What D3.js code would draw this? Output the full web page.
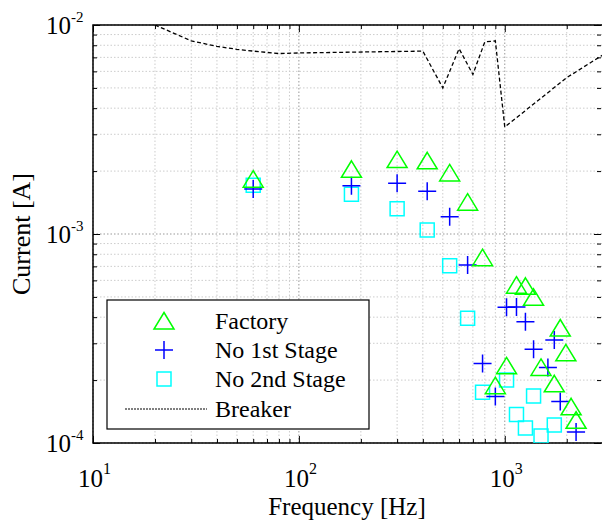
<!DOCTYPE html>
<html>
<head>
<meta charset="utf-8">
<script src="https://cdn.jsdelivr.net/npm/d3@7"></script>
<style>
  body { margin: 0; background: #fff; }
  text { font-family: "Liberation Serif", "DejaVu Serif", serif; fill: #000; }
</style>
</head>
<body>
<svg id="chart" width="602" height="521"></svg>
<script>
// harmonic frequencies (Hz) and measured currents (A)
const factoryFreq = [60, 180, 300, 420, 540, 660, 780, 900, 1020, 1140, 1260, 1380, 1500, 1740, 1860, 1980, 2100, 2220];
const factoryCur = [1.83e-3, 2.04e-3, 2.27e-3, 2.24e-3, 1.96e-3, 1.42e-3, 7.7e-4, 1.88e-4, 2.34e-4, 5.69e-4, 5.62e-4, 4.98e-4, 2.30e-4, 1.92e-4, 3.55e-4, 2.70e-4, 1.49e-4, 1.285e-4];

const no1Freq = [60, 180, 300, 420, 540, 660, 780, 900, 1020, 1140, 1260, 1380, 1620, 1740, 1860, 2220];
const no1Cur = [1.64e-3, 1.70e-3, 1.75e-3, 1.60e-3, 1.21e-3, 7.1e-4, 2.40e-4, 1.67e-4, 4.46e-4, 4.48e-4, 3.80e-4, 2.81e-4, 2.30e-4, 3.11e-4, 1.58e-4, 1.13e-4];

const no2Freq = [60, 180, 300, 420, 540, 660, 780, 1020, 1140, 1260, 1380, 1500, 1740];
const no2Cur = [1.71e-3, 1.55e-3, 1.32e-3, 1.045e-3, 7.05e-4, 3.95e-4, 1.75e-4, 2.0e-4, 1.37e-4, 1.18e-4, 1.68e-4, 1.08e-4, 1.22e-4];

const breakerFreq = [20, 30, 40, 50, 60, 80, 100, 400, 500, 600, 700, 800, 900, 1000, 2000, 3000];
const breakerCur = [1.0e-2, 8.4e-3, 7.9e-3, 7.65e-3, 7.5e-3, 7.3e-3, 7.35e-3, 7.5e-3, 5.0e-3, 7.7e-3, 5.8e-3, 8.3e-3, 8.4e-3, 3.25e-3, 5.6e-3, 7.2e-3];

const xTicks = [10, 100, 1000];
const xExp = ["1", "2", "3"];
const yTicks = [1e-4, 1e-3, 1e-2];
const yExp = ["-4", "-3", "-2"];
const legendNames = ["Factory", "No 1st Stage", "No 2nd Stage", "Breaker"];

const svg = d3.select("#chart");
const L = 93, R = 603, T = 25, B = 443;

const x = d3.scaleLog().domain([10, 3000]).range([L, R]);
const y = d3.scaleLog().domain([1e-4, 1e-2]).range([B, T]);

function minorTicks(lo, hi) {
  let out = [];
  for (let d = lo; d < hi; d *= 10)
    for (let k = 2; k <= 9; k++) if (d * k <= hi) out.push(d * k);
  return out;
}
const xMinor = minorTicks(10, 3000);
const yMinor = minorTicks(1e-4, 1e-2);

// grid
const grid = svg.append("g");
grid.selectAll(".gx").data(xMinor).join("line")
  .attr("x1", d => x(d)).attr("x2", d => x(d)).attr("y1", T).attr("y2", B)
  .attr("stroke", "#cccccc").attr("stroke-dasharray", "1.5,2");
grid.selectAll(".gy").data(yMinor).join("line")
  .attr("y1", d => y(d)).attr("y2", d => y(d)).attr("x1", L).attr("x2", R)
  .attr("stroke", "#cccccc").attr("stroke-dasharray", "1.5,2");
grid.selectAll(".gxm").data(xTicks).join("line")
  .attr("x1", d => x(d)).attr("x2", d => x(d)).attr("y1", T).attr("y2", B)
  .attr("stroke", "#999").attr("stroke-dasharray", "1.5,2");
grid.selectAll(".gym").data(yTicks).join("line")
  .attr("y1", d => y(d)).attr("y2", d => y(d)).attr("x1", L).attr("x2", R)
  .attr("stroke", "#999").attr("stroke-dasharray", "1.5,2");

// ticks (inward) on all four sides
function addAxis(axis, tr) {
  const g = svg.append("g").attr("transform", tr).call(axis);
  g.select(".domain").remove();
  g.selectAll("line").attr("stroke", "#000");
  g.selectAll("text").remove();
}
addAxis(d3.axisBottom(x).tickValues(xTicks).tickSize(-7), `translate(0,${B})`);
addAxis(d3.axisBottom(x).tickValues(xMinor).tickSize(-4), `translate(0,${B})`);
addAxis(d3.axisTop(x).tickValues(xTicks).tickSize(-7), `translate(0,${T})`);
addAxis(d3.axisTop(x).tickValues(xMinor).tickSize(-4), `translate(0,${T})`);
addAxis(d3.axisLeft(y).tickValues(yTicks).tickSize(-7), `translate(${L},0)`);
addAxis(d3.axisLeft(y).tickValues(yMinor).tickSize(-4), `translate(${L},0)`);
addAxis(d3.axisRight(y).tickValues(yTicks).tickSize(-7), `translate(${R - 2},0)`);
addAxis(d3.axisRight(y).tickValues(yMinor).tickSize(-4), `translate(${R - 2},0)`);

// frame
svg.append("path")
  .attr("d", `M${R},${T}H${L}V${B}H${R}`)
  .attr("fill", "none").attr("stroke", "#000").attr("stroke-width", 1.5);

// tick labels
xTicks.forEach((v, i) => {
  const t = svg.append("text").attr("x", x(v) - 15).attr("y", 487).attr("font-size", 25);
  t.append("tspan").text("10");
  t.append("tspan").attr("font-size", 16).attr("dy", -13).text(xExp[i]);
});
yTicks.forEach((v, i) => {
  const t = svg.append("text").attr("x", 46).attr("y", y(v) + 9).attr("font-size", 25);
  t.append("tspan").text("10");
  t.append("tspan").attr("font-size", 15).attr("dy", -12).text(yExp[i]);
});

// axis titles
svg.append("text").attr("x", 347).attr("y", 515).attr("text-anchor", "middle")
  .attr("font-size", 25).text("Frequency [Hz]");
svg.append("text").attr("transform", "translate(30,234) rotate(-90)")
  .attr("text-anchor", "middle").attr("font-size", 26).text("Current [A]");

// plot content
svg.append("clipPath").attr("id", "clip").append("rect")
  .attr("x", L).attr("y", T).attr("width", R - L).attr("height", B - T);
const plot = svg.append("g").attr("clip-path", "url(#clip)");

const line = d3.line().x(d => x(d[0])).y(d => y(d[1]));
plot.append("path")
  .datum(d3.zip(breakerFreq, breakerCur))
  .attr("d", line).attr("fill", "none").attr("stroke", "#000")
  .attr("stroke-width", 1.3).attr("stroke-dasharray", "4,2.5");

const triPath = "M0,-8.5L10,8L-10,8Z";
const plusPath = "M-9,0H9M0,-9V9";
const sqPath = "M-7,-7H7V7H-7Z";

plot.selectAll(".sq").data(d3.zip(no2Freq, no2Cur)).join("path")
  .attr("transform", d => `translate(${x(d[0])},${y(d[1])})`)
  .attr("d", sqPath).attr("fill", "none").attr("stroke", "#00ffff").attr("stroke-width", 1.5);
plot.selectAll(".pl").data(d3.zip(no1Freq, no1Cur)).join("path")
  .attr("transform", d => `translate(${x(d[0])},${y(d[1])})`)
  .attr("d", plusPath).attr("fill", "none").attr("stroke", "#0000ff").attr("stroke-width", 1.5);
plot.selectAll(".tri").data(d3.zip(factoryFreq, factoryCur)).join("path")
  .attr("transform", d => `translate(${x(d[0])},${y(d[1])})`)
  .attr("d", triPath).attr("fill", "none").attr("stroke", "#00ff00").attr("stroke-width", 1.5);

// legend
const lg = svg.append("g");
lg.append("rect").attr("x", 107).attr("y", 300).attr("width", 262).attr("height", 129)
  .attr("fill", "#fff").attr("stroke", "#000").attr("stroke-width", 1.2);
const rowY = [321, 350, 379, 409];
const markPaths = [triPath, plusPath, sqPath];
const markColors = ["#00ff00", "#0000ff", "#00ffff"];
legendNames.forEach((name, i) => {
  if (i < 3) {
    lg.append("path").attr("transform", `translate(164,${rowY[i]})`)
      .attr("d", markPaths[i]).attr("fill", "none").attr("stroke", markColors[i]).attr("stroke-width", 1.5);
  } else {
    lg.append("line").attr("x1", 125).attr("x2", 207).attr("y1", rowY[i]).attr("y2", rowY[i])
      .attr("stroke", "#000").attr("stroke-width", 1).attr("stroke-dasharray", "2,1");
  }
  lg.append("text").attr("x", 215).attr("y", rowY[i] + 8).attr("font-size", 24).text(name);
});
</script>
</body>
</html>
